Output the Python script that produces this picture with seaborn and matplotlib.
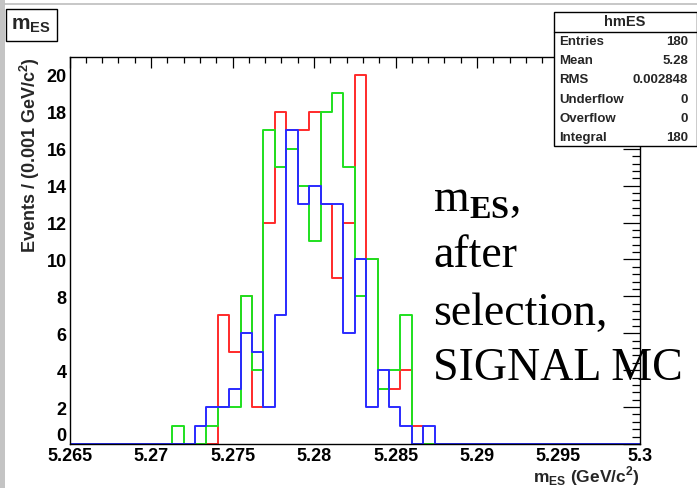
import numpy as np
import pandas as pd
import matplotlib
matplotlib.use("Agg")
import matplotlib.pyplot as plt
from matplotlib.patches import Rectangle
from matplotlib.lines import Line2D
from matplotlib.ticker import MultipleLocator, FixedLocator
import seaborn as sns

# Binning of the mES histograms (GeV/c^2)
bin_width = 0.0007
x_lo, x_hi = 5.265, 5.300
first_filled = 5.2713          # lower edge of the first listed bin

# Bin contents from first_filled onwards, one entry per bin
red_counts   = [0, 0, 0, 0, 7, 5, 8, 2, 12, 18, 17, 17, 18, 13, 9, 12, 20, 10, 3, 3, 4, 1, 0, 0]
green_counts = [1, 0, 0, 1, 2, 2, 8, 4, 17, 15, 16, 14, 11, 18, 19, 15, 8, 10, 3, 4, 7, 0, 0, 0]
blue_counts  = [0, 0, 1, 2, 2, 3, 6, 5, 2, 7, 17, 13, 14, 13, 13, 6, 10, 2, 4, 2, 1, 0, 1, 0]

x_ticks = [5.265, 5.27, 5.275, 5.28, 5.285, 5.29, 5.295, 5.3]
x_tick_labels = ["5.265", "5.27", "5.275", "5.28", "5.285", "5.29", "5.295", "5.3"]
y_ticks = [0, 2, 4, 6, 8, 10, 12, 14, 16, 18, 20]

stat_names = ["Entries", "Mean", "RMS", "Underflow", "Overflow", "Integral"]
stat_values = ["180", "5.28", "0.002848", "0", "0", "180"]

sns.set_style("white")
plt.rcParams["font.family"] = ["Liberation Sans", "DejaVu Sans"]
plt.rcParams["font.weight"] = "bold"
plt.rcParams["mathtext.fontset"] = "custom"
plt.rcParams["mathtext.rm"] = "Liberation Serif"
plt.rcParams["mathtext.sf"] = "Liberation Sans"
plt.rcParams["mathtext.bf"] = "Liberation Sans:bold"

W, H = 697, 489
fig = plt.figure(figsize=(W / 100, H / 100), dpi=100)
fig.patch.set_facecolor("white")

# frame of the pad, in pixels
fx0, fx1, fy_top, fy_bot = 69.5, 640.0, 57.5, 445.0
ax = fig.add_axes([fx0 / W, 1 - fy_bot / H, (fx1 - fx0) / W, (fy_bot - fy_top) / H])

n_bins = int(round((x_hi - x_lo) / bin_width))
edges = [x_lo + bin_width * i for i in range(n_bins + 1)]
centers = [0.5 * (edges[i] + edges[i + 1]) for i in range(n_bins)]
offset = int(round((first_filled - x_lo) / bin_width))

samples = [("red", red_counts, "#ff2a2a"),
           ("green", green_counts, "#1fe01f"),
           ("blue", blue_counts, "#2a2aff")]

for name, counts, col in samples:
    weights = np.zeros(n_bins)
    weights[offset:offset + len(counts)] = counts
    df = pd.DataFrame({"mes": centers, "n": weights})
    sns.histplot(data=df, x="mes", weights="n", bins=edges, element="step",
                 fill=False, color=col, linewidth=1.4, ax=ax)

ax.set_xlim(x_lo, x_hi)
ax.set_ylim(0, 21)
ax.xaxis.set_major_locator(FixedLocator(x_ticks))
ax.set_xticklabels(x_tick_labels)
ax.xaxis.set_minor_locator(MultipleLocator(0.001))
ax.yaxis.set_major_locator(FixedLocator(y_ticks))
ax.set_yticklabels([str(v) for v in y_ticks])
ax.yaxis.set_minor_locator(MultipleLocator(0.4))

ax.tick_params(axis="both", which="both", direction="in", top=True, right=True,
               colors="black", width=0.9)
ax.tick_params(axis="x", which="major", length=8, labelsize=13, pad=2)
ax.tick_params(axis="x", which="minor", length=4)
ax.tick_params(axis="y", which="major", length=12, labelsize=13, pad=2)
ax.tick_params(axis="y", which="minor", length=6)
for lab in ax.get_xticklabels() + ax.get_yticklabels():
    lab.set_fontweight("bold")
# the zero label sits just above the x tick labels
ax.get_yticklabels()[0].set_verticalalignment("bottom")

for s in ax.spines.values():
    s.set_color("black")
    s.set_linewidth(1.0)

ax.set_xlabel(r"$\mathbf{m}_{\mathbf{ES}}$ (GeV/c$^{\mathbf{2}}$)", loc="right",
              fontsize=12.5, fontweight="bold", labelpad=0)
ax.set_ylabel(r"Events / (0.001 GeV/c$^{\mathbf{2}}$)", loc="top",
              fontsize=13, fontweight="bold", labelpad=3)

# annotation inside the pad
serif = ["Liberation Serif", "DejaVu Serif"]
tx = 433 / W
note_size = 33
fig.text(tx, 1 - 212 / H, r"m$_{\mathrm{ES}}$,", family=serif, fontsize=note_size,
         fontweight="normal", va="baseline", color="black")
fig.text(tx, 1 - 267 / H, "after", family=serif, fontsize=note_size,
         fontweight="normal", va="baseline", color="black")
fig.text(tx, 1 - 325 / H, "selection,", family=serif, fontsize=note_size,
         fontweight="normal", va="baseline", color="black")
fig.text(tx, 1 - 380 / H, "SIGNAL MC", family=serif, fontsize=note_size,
         fontweight="normal", va="baseline", color="black")

# canvas decorations: left strip and top line
fig.add_artist(Rectangle((0, 0), 5 / W, 1, transform=fig.transFigure,
                         facecolor="#c4c4c4", edgecolor="none", zorder=6))
fig.add_artist(Line2D([5 / W, 1], [1 - 5 / H, 1 - 5 / H], transform=fig.transFigure,
                      color="#bdbdbd", linewidth=1.2, zorder=6))

# title box
fig.add_artist(Rectangle((6 / W, 1 - 42 / H), 51 / W, 32 / H, transform=fig.transFigure,
                         facecolor="white", edgecolor="black", linewidth=1.0, zorder=7))
fig.text(31 / W, 1 - 26 / H, r"$\mathbf{m}_{\mathbf{ES}}$", fontsize=15,
         ha="center", va="center", zorder=8)

# statistics box
bx0, bx1, by0, by1 = 553.5, 696.5, 12.5, 147.0
fig.add_artist(Rectangle((bx0 / W, 1 - by1 / H), (bx1 - bx0) / W, (by1 - by0) / H,
                         transform=fig.transFigure, facecolor="white",
                         edgecolor="black", linewidth=1.0, zorder=7))
fig.add_artist(Line2D([bx0 / W, bx1 / W], [1 - 33 / H, 1 - 33 / H],
                      transform=fig.transFigure, color="black", linewidth=1.0, zorder=8))
fig.text((bx0 + bx1) / 2 / W, 1 - 22.5 / H, "hmES", fontsize=10.5, fontweight="bold",
         ha="center", va="center", zorder=9)
row_y = [42, 61.2, 80.4, 99.6, 118.8, 138]
for name, val, yy in zip(stat_names, stat_values, row_y):
    fig.text(559 / W, 1 - yy / H, name, fontsize=9.5, fontweight="bold",
             ha="left", va="center", zorder=9)
    fig.text(688 / W, 1 - yy / H, val, fontsize=9.5, fontweight="bold",
             ha="right", va="center", zorder=9)

fig.savefig("out.png", dpi=100)
